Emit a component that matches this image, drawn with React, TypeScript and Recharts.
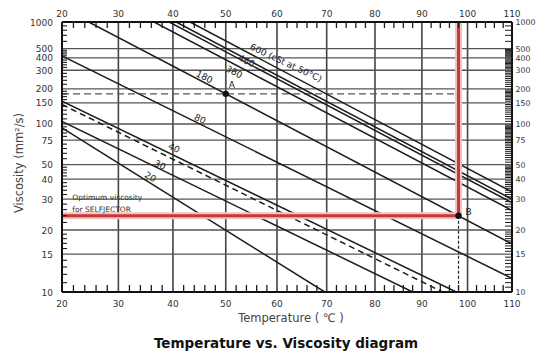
import React from "react";
import {
  ComposedChart,
  Line,
  XAxis,
  YAxis,
  ReferenceLine,
  ReferenceDot,
} from "recharts";

// Walther-type chart: x = log(absolute temperature), y = log(log(viscosity + 0.7))
const tx = (t: number) => Math.log10(t + 273);
const vy = (v: number) => Math.log10(Math.log10(v + 0.7));
const txInv = (x: number) => Math.pow(10, x) - 273;
const vyInv = (y: number) => Math.pow(10, Math.pow(10, y)) - 0.7;

const range = (a: number, b: number, step: number) => {
  const out: number[] = [];
  for (let v = a; v < b - 1e-9; v += step) out.push(Math.round(v * 10) / 10);
  return out;
};

const TEMP_LABELS = [20, 30, 40, 50, 60, 70, 80, 90, 100, 110];
const TEMP_GRID = [30, 40, 50, 60, 70, 80, 90, 100];
const TEMP_MINOR = range(20, 110, 2).filter((t) => t % 10 !== 0);

const VISC_LABELS = [10, 15, 20, 30, 40, 50, 75, 100, 150, 200, 300, 400, 500, 1000];
const VISC_GRID = [15, 20, 30, 40, 50, 75, 100, 150, 200, 300, 400, 500];
const VISC_MINOR_LEFT = [
  11, 12, 13, 14, 16, 17, 18, 19, 22, 24, 26, 28, 32, 34, 36, 38, 42, 44, 46, 48,
  55, 60, 65, 70, 80, 85, 90, 95, 110, 120, 130, 140, 160, 170, 180, 190,
  220, 240, 260, 280, 320, 340, 360, 380, 420, 440, 460, 480, 600, 700, 800, 900,
];
const VISC_MINOR_RIGHT = [
  ...range(10, 20, 0.5), ...range(20, 50, 1), ...range(50, 100, 2),
  ...range(100, 200, 5), ...range(200, 500, 10), ...range(500, 1000, 100),
].filter((v) => !VISC_LABELS.includes(v));

// oil lines (grade = cSt at 50 °C), read as two end points each
const GRADES = ["20", "30", "40", "ref", "80", "180", "380", "460", "500", "600"];
const GRADE_T1 = [20, 20, 20, 20, 20, 24.7, 36.5, 39.3, 40.6, 43.2];
const GRADE_V1 = [93, 105, 155, 145, 420, 1000, 1000, 1000, 1000, 1000];
const GRADE_T2 = [69.6, 88, 97.5, 94.5, 110, 110, 110, 110, 110, 110];
const GRADE_V2 = [10, 10, 10, 10, 11.5, 16.9, 25.7, 28.6, 30.0, 33.2];
const DASHED_GRADE = "ref";

// example: 180 cSt oil at 50 °C (A) heated to reach optimum viscosity (B)
const OPTIMUM_VISC = 24;
const POINT_A = { t: 50, v: 180 };
const POINT_B = { t: 98, v: 24 };

const LINE_LABELS = ["20", "30", "40", "80", "180", "380", "460", "600 (cSt at 50°C)"];
const LINE_LABEL_T = [35.8, 37.6, 40.2, 45.1, 45.9, 51.6, 54.0, 61.8];
const LINE_LABEL_V = [41.3, 49.7, 65.6, 109.7, 258, 289, 372, 355];
const LINE_LABEL_ANGLE = [32, 25, 26, 26, 27, 27, 26, 25];

const FONT = "'DejaVu Sans', 'Liberation Sans', sans-serif";
const INK = "#1c1c1c";

const BottomTick = (p: any) => {
  const t = Math.round(txInv(p.payload.value) * 10) / 10;
  const major = TEMP_LABELS.includes(t);
  return (
    <g>
      {!major && <line x1={p.x} x2={p.x} y1={p.y} y2={p.y - 7} stroke={INK} strokeWidth={1.3} />}
      {major && (
        <text x={p.x} y={p.y + 14.5} textAnchor="middle" fontSize={9} fill="#333" fontFamily={FONT}>
          {t}
        </text>
      )}
    </g>
  );
};

const TopTick = (p: any) => {
  const t = Math.round(txInv(p.payload.value) * 10) / 10;
  const major = TEMP_LABELS.includes(t);
  return (
    <g>
      {!major && <line x1={p.x} x2={p.x} y1={p.y} y2={p.y + 6} stroke={INK} strokeWidth={1.3} />}
      {major && (
        <text x={p.x} y={p.y - 5.5} textAnchor="middle" fontSize={9} fill="#333" fontFamily={FONT}>
          {t}
        </text>
      )}
    </g>
  );
};

const LeftTick = (p: any) => {
  const v = Math.round(vyInv(p.payload.value) * 10) / 10;
  const major = VISC_LABELS.includes(v);
  return (
    <g>
      {!major && <line x1={p.x} x2={p.x + 5} y1={p.y} y2={p.y} stroke={INK} strokeWidth={1.1} />}
      {major && (
        <text x={p.x - 9} y={p.y + 3.5} textAnchor="end" fontSize={9} fill="#333" fontFamily={FONT}>
          {v}
        </text>
      )}
    </g>
  );
};

const RightTick = (p: any) => {
  const v = Math.round(vyInv(p.payload.value) * 10) / 10;
  const major = VISC_LABELS.includes(v);
  return (
    <g>
      {!major && <line x1={p.x} x2={p.x - 7} y1={p.y} y2={p.y} stroke={INK} strokeWidth={1} />}
      {major && (
        <text x={p.x + 3.5} y={p.y + 3} textAnchor="start" fontSize={7.8} fill="#333" fontFamily={FONT}>
          {v}
        </text>
      )}
    </g>
  );
};

const slanted = (text: string, angle: number) => (props: any) => {
  const vb = props.viewBox || {};
  const cx = vb.x + (vb.width || 0) / 2;
  const cy = vb.y + (vb.height || 0) / 2;
  return (
    <text
      x={cx}
      y={cy}
      transform={`rotate(${angle} ${cx} ${cy})`}
      textAnchor="middle"
      dominantBaseline="central"
      fontSize={9}
      fill="#222"
      fontFamily={FONT}
    >
      {text}
    </text>
  );
};

const pointLabel = (text: string, dx: number, dy: number) => (props: any) => {
  const vb = props.viewBox || {};
  const cx = vb.x + (vb.width || 0) / 2;
  const cy = vb.y + (vb.height || 0) / 2;
  return (
    <text x={cx + dx} y={cy + dy} fontSize={9} fill="#222" fontFamily={FONT}>
      {text}
    </text>
  );
};

const optimumNote = (props: any) => {
  const vb = props.viewBox || {};
  const x = vb.x + (vb.width || 0) / 2;
  const y = vb.y + (vb.height || 0) / 2;
  return (
    <text fontSize={7.5} fill="#333" fontFamily={FONT}>
      <tspan x={x} y={y + 3}>Optimum viscosity</tspan>
      <tspan x={x} y={y + 15}>for SELFJECTOR</tspan>
    </text>
  );
};

export default function App() {
  const xDomain = [tx(20), tx(110)];
  const yDomain = [vy(10), vy(1000)];
  const axisLine = { stroke: "#111", strokeWidth: 2 };
  const xTicks = [...TEMP_LABELS, ...TEMP_MINOR].map(tx);

  return (
    <div style={{ position: "absolute", left: 0, top: 0, width: 537, height: 362, background: "#fff" }}>
      <ComposedChart width={537} height={362} margin={{ top: 0, right: 0, bottom: 0, left: 0 }}>
        <XAxis
          type="number"
          dataKey="x"
          domain={xDomain}
          allowDataOverflow
          ticks={xTicks}
          interval={0}
          height={70}
          tickLine={false}
          tickSize={0}
          tickMargin={0}
          axisLine={axisLine}
          tick={(p: any) => <BottomTick {...p} />}
        />
        <XAxis
          xAxisId="top"
          orientation="top"
          type="number"
          dataKey="x"
          domain={xDomain}
          allowDataOverflow
          ticks={xTicks}
          interval={0}
          height={22}
          tickLine={false}
          tickSize={0}
          tickMargin={0}
          axisLine={axisLine}
          tick={(p: any) => <TopTick {...p} />}
        />
        <YAxis
          type="number"
          domain={yDomain}
          allowDataOverflow
          ticks={[...VISC_LABELS, ...VISC_MINOR_LEFT].map(vy)}
          interval={0}
          width={62}
          tickLine={false}
          tickSize={0}
          tickMargin={0}
          axisLine={axisLine}
          tick={(p: any) => <LeftTick {...p} />}
        />
        <YAxis
          yAxisId="right"
          orientation="right"
          type="number"
          domain={yDomain}
          allowDataOverflow
          ticks={[...VISC_LABELS, ...VISC_MINOR_RIGHT].map(vy)}
          interval={0}
          width={25}
          tickLine={false}
          tickSize={0}
          tickMargin={0}
          axisLine={axisLine}
          tick={(p: any) => <RightTick {...p} />}
        />

        {TEMP_GRID.map((t) => (
          <ReferenceLine key={`gx${t}`} x={tx(t)} stroke="#444" strokeWidth={1.6} ifOverflow="visible" />
        ))}
        {VISC_GRID.map((v) => (
          <ReferenceLine key={`gy${v}`} y={vy(v)} stroke="#555" strokeWidth={1.3} ifOverflow="visible" />
        ))}

        {/* reading guides */}
        <ReferenceLine
          segment={[{ x: tx(20), y: vy(POINT_A.v) }, { x: tx(POINT_B.t), y: vy(POINT_A.v) }]}
          stroke="#555"
          strokeWidth={1.4}
          strokeDasharray="7 4"
          ifOverflow="visible"
        />
        <ReferenceLine
          segment={[{ x: tx(POINT_A.t), y: vy(280) }, { x: tx(POINT_A.t), y: vy(POINT_A.v) }]}
          stroke="#555"
          strokeWidth={1.2}
          strokeDasharray="4 3"
          ifOverflow="visible"
        />
        <ReferenceLine
          segment={[{ x: tx(POINT_B.t), y: vy(POINT_B.v) }, { x: tx(POINT_B.t), y: vy(10) }]}
          stroke="#222"
          strokeWidth={1.2}
          strokeDasharray="3 2"
          ifOverflow="visible"
        />

        {GRADES.map((g, i) => (
          <Line
            key={g}
            data={[
              { x: tx(GRADE_T1[i]), y: vy(GRADE_V1[i]) },
              { x: tx(GRADE_T2[i]), y: vy(GRADE_V2[i]) },
            ]}
            dataKey="y"
            stroke={INK}
            strokeWidth={1.5}
            strokeDasharray={g === DASHED_GRADE ? "6 4" : undefined}
            dot={false}
            activeDot={false}
            isAnimationActive={false}
          />
        ))}

        {/* optimum viscosity band */}
        <ReferenceLine
          segment={[{ x: tx(POINT_B.t), y: vy(1000) }, { x: tx(POINT_B.t), y: vy(OPTIMUM_VISC) }]}
          stroke="#f2c2c2"
          strokeWidth={7}
          ifOverflow="visible"
        />
        <ReferenceLine
          segment={[{ x: tx(20), y: vy(OPTIMUM_VISC) }, { x: tx(POINT_B.t), y: vy(OPTIMUM_VISC) }]}
          stroke="#f2c2c2"
          strokeWidth={7}
          ifOverflow="visible"
        />
        <ReferenceLine
          segment={[{ x: tx(POINT_B.t), y: vy(1000) }, { x: tx(POINT_B.t), y: vy(OPTIMUM_VISC) }]}
          stroke="#c43a3a"
          strokeWidth={3}
          ifOverflow="visible"
        />
        <ReferenceLine
          segment={[{ x: tx(20), y: vy(OPTIMUM_VISC) }, { x: tx(POINT_B.t), y: vy(OPTIMUM_VISC) }]}
          stroke="#c43a3a"
          strokeWidth={3}
          ifOverflow="visible"
        />

        <ReferenceDot
          x={tx(POINT_A.t)}
          y={vy(POINT_A.v)}
          r={3.2}
          fill="#111"
          stroke="none"
          ifOverflow="visible"
          label={pointLabel("A", 3, -6)}
        />
        <ReferenceDot
          x={tx(POINT_B.t)}
          y={vy(POINT_B.v)}
          r={3.2}
          fill="#111"
          stroke="none"
          ifOverflow="visible"
          label={pointLabel("B", 7, -1)}
        />

        {LINE_LABELS.map((txt, i) => (
          <ReferenceDot
            key={`lab${i}`}
            x={tx(LINE_LABEL_T[i])}
            y={vy(LINE_LABEL_V[i])}
            r={1}
            fill="none"
            stroke="none"
            ifOverflow="visible"
            label={slanted(txt, LINE_LABEL_ANGLE[i])}
          />
        ))}

        <ReferenceDot
          x={tx(21.8)}
          y={vy(31)}
          r={1}
          fill="none"
          stroke="none"
          ifOverflow="visible"
          label={optimumNote}
        />
      </ComposedChart>

      <div
        style={{
          position: "absolute",
          left: 19,
          top: 163,
          transform: "translate(-50%, -50%) rotate(-90deg)",
          whiteSpace: "nowrap",
          fontFamily: FONT,
          fontSize: 11.5,
          color: "#444",
        }}
      >
        Viscosity (mm²/s)
      </div>
      <div
        style={{
          position: "absolute",
          left: 291,
          top: 318,
          transform: "translate(-50%, -50%)",
          whiteSpace: "nowrap",
          fontFamily: FONT,
          fontSize: 11.5,
          color: "#444",
        }}
      >
        Temperature ( ℃ )
      </div>
      <div
        style={{
          position: "absolute",
          left: 286,
          top: 343,
          transform: "translate(-50%, -50%)",
          whiteSpace: "nowrap",
          fontFamily: FONT,
          fontSize: 13.5,
          fontWeight: "bold",
          color: "#111",
        }}
      >
        Temperature vs. Viscosity diagram
      </div>
    </div>
  );
}
